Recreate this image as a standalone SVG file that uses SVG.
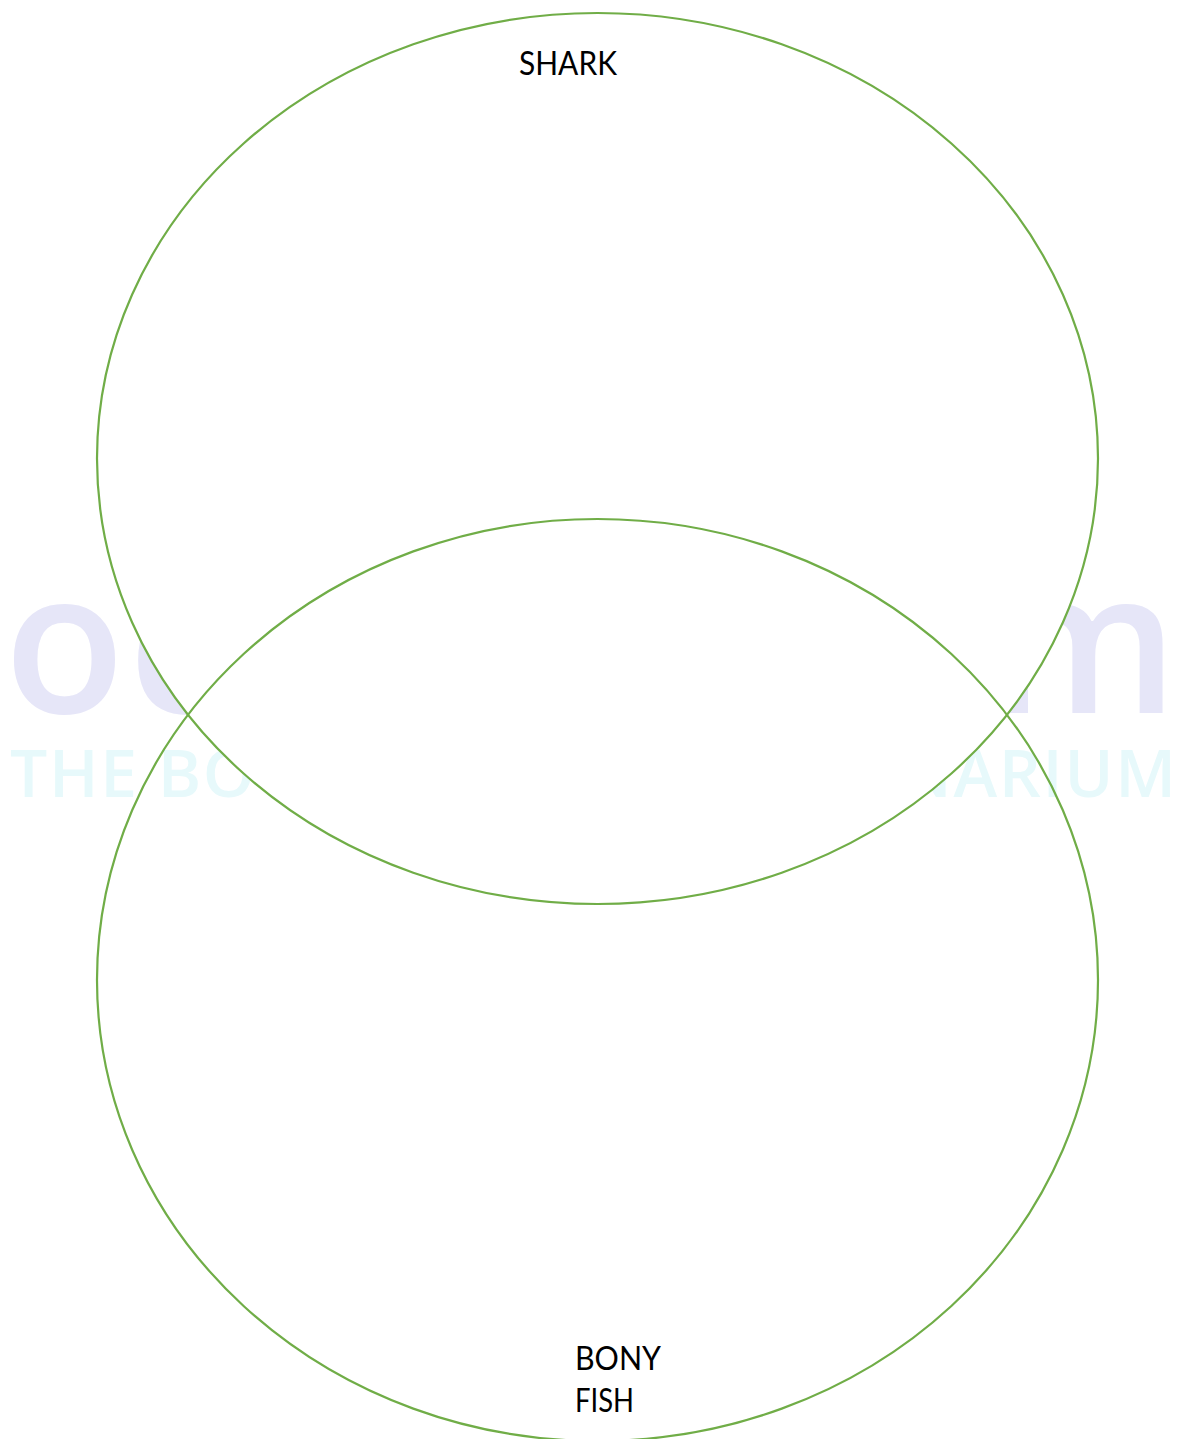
<svg xmlns="http://www.w3.org/2000/svg" width="1182" height="1439" viewBox="0 0 1182 1439">
<style>
.ring{fill:none;stroke:#70AD47;stroke-width:2.2}
.cover{fill:#ffffff;stroke:none}
.lbl{font-family:Lato,"Liberation Sans",sans-serif;font-size:32px;fill:#000000}
.wm{font-family:"Open Sans","Liberation Sans",sans-serif;font-weight:600}
</style>
<rect width="1182" height="1439" fill="#ffffff"/>
<g id="watermark">
<text class="wm" x="4" y="713" font-size="198" fill="#e6e6f8" textLength="1174" lengthAdjust="spacing">oceanarium</text>
<text class="wm" x="10" y="797" font-size="66" fill="#e7f9fb" textLength="1166" lengthAdjust="spacing">THE BOURNEMOUTH OCEANARIUM</text>
</g>
<ellipse class="cover" cx="597.5" cy="458.5" rx="500.5" ry="445.5"/>
<g id="connectors"/>
<g id="shark">
<ellipse class="ring" cx="597.5" cy="458.5" rx="500.5" ry="445.5"/>
<text class="lbl" x="519" y="75" textLength="98" lengthAdjust="spacingAndGlyphs">SHARK</text>
</g>
<g id="bony-fish">
<ellipse class="ring" cx="597.5" cy="980" rx="500.5" ry="461"/>
<text class="lbl" x="575" y="1370" textLength="86" lengthAdjust="spacingAndGlyphs">BONY</text>
<text class="lbl" x="575" y="1412" textLength="59" lengthAdjust="spacingAndGlyphs">FISH</text>
</g>
</svg>
